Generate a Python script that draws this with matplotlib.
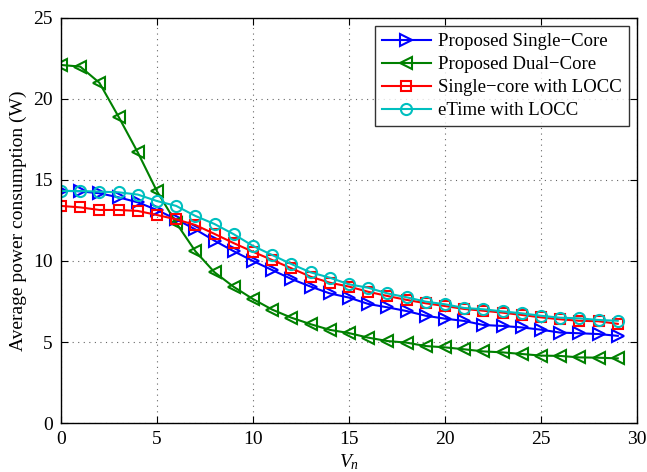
import numpy as np
import matplotlib as mpl
mpl.use("Agg")
import matplotlib.pyplot as plt

# Data
vn = list(range(30))

single_core = [14.34, 14.30, 14.18, 13.93, 13.62, 13.15, 12.57, 11.95, 11.25, 10.60,
               10.00, 9.44, 8.89, 8.42, 8.00, 7.74, 7.35, 7.14, 6.91, 6.62,
               6.44, 6.30, 6.05, 5.99, 5.90, 5.76, 5.58, 5.54, 5.49, 5.38]
dual_core = [22.10, 22.00, 21.00, 18.90, 16.70, 14.30, 12.35, 10.60, 9.30, 8.40,
             7.65, 7.00, 6.50, 6.10, 5.75, 5.55, 5.27, 5.06, 4.96, 4.75,
             4.67, 4.55, 4.42, 4.36, 4.26, 4.16, 4.14, 4.05, 4.03, 3.99]
single_locc = [13.40, 13.31, 13.15, 13.15, 13.09, 12.84, 12.57, 12.22, 11.67, 11.10,
               10.57, 10.06, 9.55, 9.03, 8.66, 8.42, 8.10, 7.84, 7.60, 7.39,
               7.22, 7.04, 6.93, 6.81, 6.67, 6.52, 6.40, 6.31, 6.28, 6.12]
etime_locc = [14.32, 14.32, 14.28, 14.24, 14.10, 13.70, 13.40, 12.78, 12.28, 11.65,
              10.93, 10.37, 9.81, 9.30, 8.97, 8.56, 8.35, 8.00, 7.76, 7.49,
              7.33, 7.10, 7.02, 6.89, 6.77, 6.62, 6.50, 6.46, 6.36, 6.31]

labels = ["Proposed Single\u2212Core", "Proposed Dual\u2212Core",
          "Single\u2212core with LOCC", "eTime with LOCC"]

mpl.rcParams["font.family"] = ["Liberation Serif", "DejaVu Serif"]
mpl.rcParams["mathtext.fontset"] = "custom"
mpl.rcParams["mathtext.it"] = "Liberation Serif:italic"
mpl.rcParams["mathtext.rm"] = "Liberation Serif"

fig = plt.figure(figsize=(6.47, 4.72), dpi=100)
ax = fig.add_axes([0.0943, 0.1038, 0.8902, 0.8581])

style = dict(linewidth=1.5, markersize=8, markerfacecolor="none", markeredgewidth=1.5)
ax.plot(vn, single_core, "->", color="#0000ff", label=labels[0], **style)
ax.plot(vn, dual_core, "-<", color="#008000", label=labels[1], **style)
ax.plot(vn, single_locc, "-s", color="#ff0000", label=labels[2],
        linewidth=1.5, markersize=7, markerfacecolor="none", markeredgewidth=1.5)
ax.plot(vn, etime_locc, "-o", color="#00bfbf", label=labels[3], **style)

ax.set_xlim(0, 30)
ax.set_ylim(0, 25)
ax.set_xticks([0, 5, 10, 15, 20, 25, 30])
ax.set_yticks([0, 5, 10, 15, 20, 25])
ax.tick_params(direction="in", top=True, right=True, labelsize=14, length=5, pad=6)
ax.grid(True, linestyle=(0, (1, 4)), color="black", linewidth=0.8, alpha=0.6)
for s in ax.spines.values():
    s.set_linewidth(1.0)

ax.set_ylabel("Average power consumption (W)", fontsize=14)
ax.set_xlabel("$V_n$", fontsize=14, labelpad=3)

leg = ax.legend(loc="upper right", fontsize=13.5, fancybox=False, edgecolor="black",
                handlelength=2.6, borderaxespad=0.45, labelspacing=0.32,
                handletextpad=0.4, borderpad=0.35)
leg.get_frame().set_linewidth(1.0)

fig.savefig("out.png", dpi=100)
